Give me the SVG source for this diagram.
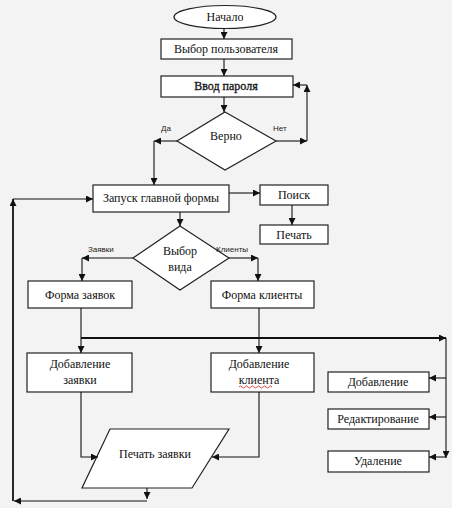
<svg xmlns="http://www.w3.org/2000/svg" width="452" height="508" viewBox="0 0 452 508">
<defs>
<marker id="ah" viewBox="0 0 10 10" refX="10" refY="5" markerWidth="7" markerHeight="7" markerUnits="userSpaceOnUse" orient="auto">
<path d="M0,0 L10,5 L0,10 z" fill="#111"/>
</marker>
</defs>
<style>
.bg{fill:#f3f3f3}
.n{fill:#fff;stroke:#222;stroke-width:1.2}
.t{font-family:'Liberation Serif','DejaVu Serif',serif;font-size:12px;fill:#111;text-anchor:middle}
.l{font-family:'Liberation Sans',Arial,sans-serif;font-size:8px;fill:#222}
.c line,.c polyline{stroke:#111;stroke-width:1.1;fill:none}
.c .a{marker-end:url(#ah)}
.c .th{stroke-width:1.8}
</style>
<rect class="bg" x="0" y="0" width="452" height="508"/>

<g id="start"><ellipse class="n" cx="225" cy="17" rx="51" ry="11.5"/><text class="t" x="225" y="21">Начало</text></g>
<g id="user"><rect class="n" x="161" y="39" width="131" height="20"/><text class="t" x="226" y="53">Выбор пользователя</text></g>
<g id="pass"><rect class="n" x="161" y="76" width="132" height="21"/><text class="t" x="226" y="90" stroke="#111" stroke-width="0.3">Ввод пароля</text></g>
<g id="check"><polygon class="n" points="225,112 276,141 225,170 177,141"/><text class="t" x="226" y="140">Верно</text></g>
<g id="main"><rect class="n" x="93" y="185" width="136" height="27"/><text class="t" x="161" y="202">Запуск главной формы</text></g>
<g id="search"><rect class="n" x="260" y="185" width="68" height="20"/><text class="t" x="294" y="199">Поиск</text></g>
<g id="print"><rect class="n" x="260" y="225" width="68" height="19"/><text class="t" x="294" y="239">Печать</text></g>
<g id="view"><polygon class="n" points="180,226 229,258 180,290 133,258"/><text class="t" x="180" y="255">Выбор</text><text class="t" x="180" y="271">вида</text></g>
<g id="formz"><rect class="n" x="28" y="281" width="104" height="27"/><text class="t" x="80" y="299">Форма заявок</text></g>
<g id="formk"><rect class="n" x="211" y="281" width="103" height="27"/><text class="t" x="262" y="299">Форма клиенты</text></g>
<g id="addz"><rect class="n" x="27" y="353" width="105" height="39"/><text class="t" x="80" y="368">Добавление</text><text class="t" x="80" y="384">заявки</text></g>
<g id="addk"><rect class="n" x="211" y="353" width="103" height="39"/><text class="t" x="259" y="368">Добавление</text><text class="t" x="259" y="384">клиента</text><path d="M239,387 q1.5,-2 3,0 t3,0 t3,0 t3,0 t3,0 t3,0 t3,0 t3,0 t3,0 t3,0 t3,0" stroke="#d02020" stroke-width="0.8" fill="none"/></g>
<g id="add"><rect class="n" x="328" y="372" width="101" height="20"/><text class="t" x="378" y="386">Добавление</text></g>
<g id="edit"><rect class="n" x="328" y="409" width="101" height="20"/><text class="t" x="378" y="423">Редактирование</text></g>
<g id="del"><rect class="n" x="328" y="451" width="101" height="21"/><text class="t" x="378" y="465">Удаление</text></g>
<g id="printz"><polygon class="n" points="110,429 229,429 192,488 82,488"/><text class="t" x="155" y="458">Печать заявки</text></g>

<g id="labels">
<text class="l" x="161" y="131">Да</text>
<text class="l" x="273" y="131">Нет</text>
<text class="l" x="88" y="252">Заявки</text>
<text class="l" x="216" y="252">Клиенты</text>
</g>

<g class="c" id="connectors">
<line class="a" x1="224" y1="28.5" x2="224" y2="39"/>
<line class="a" x1="224" y1="59" x2="224" y2="76"/>
<line class="a" x1="224" y1="97" x2="224" y2="112"/>
<line class="a" x1="276" y1="141" x2="307" y2="141"/>
<line class="a" x1="307" y1="141" x2="307" y2="85"/>
<line class="a" x1="307" y1="85" x2="293" y2="85"/>
<line class="a" x1="177" y1="141" x2="154" y2="141"/>
<line class="a" x1="154" y1="141" x2="154" y2="185"/>
<line class="a" x1="229" y1="193" x2="260" y2="193"/>
<line class="a" x1="292" y1="205" x2="292" y2="225"/>
<line class="a" x1="180" y1="212" x2="180" y2="226"/>
<line class="a" x1="133" y1="258" x2="82" y2="258"/>
<line class="a" x1="82" y1="258" x2="82" y2="281"/>
<line class="a" x1="229" y1="258" x2="258" y2="258"/>
<line class="a" x1="258" y1="258" x2="258" y2="281"/>
<line x1="81" y1="308" x2="81" y2="338"/>
<line x1="259" y1="308" x2="259" y2="338"/>
<line class="a th" x1="81" y1="338" x2="446" y2="338"/>
<line class="a" x1="81" y1="338" x2="81" y2="353"/>
<line class="a" x1="259" y1="338" x2="259" y2="353"/>
<line class="a" x1="446" y1="338" x2="446" y2="458"/>
<line class="a" x1="446" y1="378" x2="429" y2="378"/>
<line class="a" x1="446" y1="417" x2="429" y2="417"/>
<line class="a" x1="446" y1="457" x2="429" y2="457"/>
<polyline class="a" points="81,392 81,457 98,457"/>
<polyline class="a" points="259,392 259,457 212,457"/>
<line class="a" x1="147" y1="488" x2="147" y2="499"/>
<line class="a" x1="147" y1="501" x2="14" y2="501"/>
<line class="a th" x1="13" y1="501" x2="13" y2="199"/>
<line class="a" x1="13" y1="199" x2="93" y2="199"/>
</g>
</svg>
